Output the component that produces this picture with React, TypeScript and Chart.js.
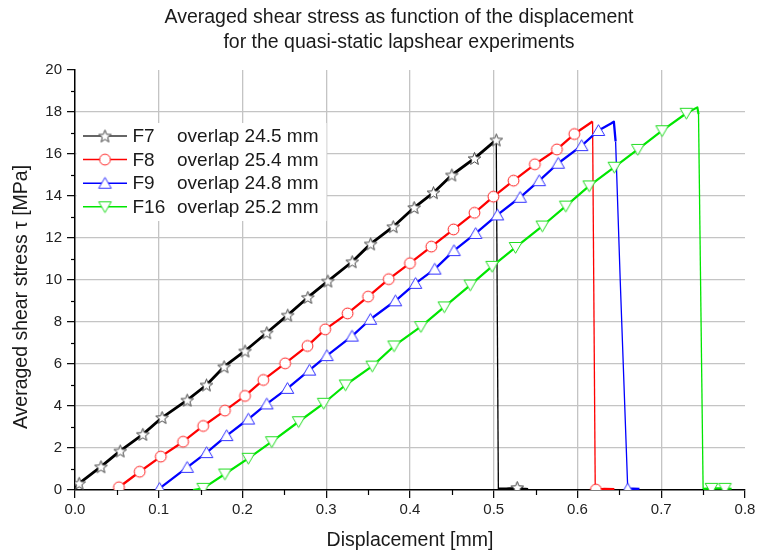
import React, { useEffect, useRef } from 'react';
import { Chart, registerables } from 'chart.js';

Chart.register(...registerables);

const FONT = '"Liberation Sans", Arial, Helvetica, sans-serif';

// ---- text ----
const titleLines = [
  'Averaged shear stress as function of the displacement',
  'for the quasi-static lapshear experiments',
];
const xTitle = 'Displacement [mm]';
const yTitle = 'Averaged shear stress \u03c4 [MPa]';
const seriesNames = ['F7', 'F8', 'F9', 'F16'];
const overlapLabels = ['overlap 24.5 mm', 'overlap 25.4 mm', 'overlap 24.8 mm', 'overlap 25.2 mm'];

// ---- axes ----
const xMin = 0;
const xMax = 0.8;
const xStep = 0.1;
const xMinorStep = 0.05;
const yMin = 0;
const yMax = 20;
const yStep = 2;
const yMinorStep = 1;

// ---- F7 (overlap 24.5 mm) ----
const f7MarkX = [0.005, 0.031, 0.054, 0.081, 0.104, 0.134, 0.157, 0.178, 0.203, 0.229, 0.254, 0.278, 0.302, 0.331, 0.353, 0.38, 0.405, 0.428, 0.45, 0.477, 0.503, 0.528];
const f7MarkY = [0.32, 1.11, 1.86, 2.65, 3.45, 4.28, 5.0, 5.87, 6.62, 7.49, 8.33, 9.17, 9.95, 10.87, 11.72, 12.54, 13.45, 14.16, 15.0, 15.79, 16.67, 0.12];
const f7ExtraX = [0.0, 0.5055, 0.515, 0.522, 0.535, 0.541];
const f7ExtraY = [0.08, 0.05, 0.05, 0.08, 0.05, 0.03];

// ---- F8 (overlap 25.4 mm) ----
const f8MarkX = [0.0525, 0.0772, 0.1024, 0.1291, 0.1531, 0.179, 0.203, 0.2249, 0.2509, 0.2776, 0.2988, 0.3255, 0.35, 0.3746, 0.4, 0.4255, 0.452, 0.477, 0.4996, 0.5236, 0.5491, 0.5754, 0.5962, 0.622];
const f8MarkY = [0.13, 0.87, 1.59, 2.3, 3.05, 3.78, 4.48, 5.24, 6.03, 6.86, 7.65, 8.41, 9.21, 10.04, 10.8, 11.59, 12.41, 13.2, 13.97, 14.73, 15.51, 16.22, 16.95, 0.02];
const f8ExtraX = [0.047, 0.618, 0.6212, 0.632, 0.644];
const f8ExtraY = [0.0, 17.55, 0.02, 0.05, 0.04];

// ---- F9 (overlap 24.8 mm) ----
const f9MarkX = [0.101, 0.1339, 0.1571, 0.1811, 0.207, 0.229, 0.2537, 0.28, 0.3008, 0.3308, 0.3527, 0.3826, 0.4066, 0.4295, 0.4525, 0.4784, 0.5044, 0.5315, 0.5543, 0.577, 0.605, 0.625, 0.66];
const f9MarkY = [0.08, 1.08, 1.78, 2.59, 3.38, 4.1, 4.84, 5.71, 6.4, 7.33, 8.13, 9.01, 9.84, 10.52, 11.4, 12.22, 13.1, 13.94, 14.73, 15.56, 16.4, 17.12, 0.05];
const f9ExtraX = [0.098, 0.64, 0.6434, 0.6455, 0.651, 0.666, 0.674];
const f9ExtraY = [0.0, 17.45, 17.54, 16.6, 10.0, 0.06, 0.05];

// ---- F16 (overlap 25.2 mm) ----
const f16MarkX = [0.153, 0.179, 0.207, 0.235, 0.267, 0.297, 0.323, 0.355, 0.381, 0.413, 0.441, 0.472, 0.498, 0.526, 0.558, 0.586, 0.614, 0.644, 0.672, 0.701, 0.73, 0.76, 0.776];
const f16MarkY = [0.08, 0.76, 1.51, 2.3, 3.25, 4.13, 5.0, 5.9, 6.86, 7.78, 8.72, 9.76, 10.65, 11.55, 12.57, 13.52, 14.48, 15.37, 16.22, 17.11, 17.94, 0.08, 0.08];
const f16ExtraX = [0.141, 0.7431, 0.7445, 0.75, 0.784];
const f16ExtraY = [0.0, 18.22, 17.9, 0.05, 0.06];

const seriesColors = ['#000000', '#ff0000', '#0000ff', '#00e600'];
const markerStroke = ['#444444', '#ff1a1a', '#3333ff', '#22dd22'];
const markerKinds = ['star', 'circle', 'up', 'down'];
const lineWidths = [2.8, 2.3, 2.3, 2.2];

type Pt = { x: number; y: number };

function toPts(xs: number[], ys: number[]): Pt[] {
  return xs.map((x, i) => ({ x, y: ys[i] }));
}

function buildPath(mx: number[], my: number[], ex: number[], ey: number[]): Pt[] {
  const pts = toPts(mx, my).concat(toPts(ex, ey));
  pts.sort((a, b) => a.x - b.x);
  return pts;
}

function makeMarker(kind: string, color: string): HTMLCanvasElement {
  const s = 17;
  const c = document.createElement('canvas');
  c.width = s;
  c.height = s;
  const g = c.getContext('2d')!;
  const cx = s / 2;
  const cy = s / 2;
  g.lineWidth = 1;
  g.strokeStyle = color;
  g.fillStyle = '#ffffff';
  g.beginPath();
  if (kind === 'star') {
    for (let i = 0; i < 10; i++) {
      const r = i % 2 === 0 ? 6.6 : 2.8;
      const a = -Math.PI / 2 + (i * Math.PI) / 5;
      const px = cx + r * Math.cos(a);
      const py = cy + 0.6 + r * Math.sin(a);
      if (i === 0) g.moveTo(px, py);
      else g.lineTo(px, py);
    }
    g.closePath();
  } else if (kind === 'circle') {
    g.arc(cx, cy, 5.4, 0, Math.PI * 2);
  } else if (kind === 'up') {
    g.moveTo(cx, cy - 5.8);
    g.lineTo(cx + 6.3, cy + 5);
    g.lineTo(cx - 6.3, cy + 5);
    g.closePath();
  } else {
    g.moveTo(cx, cy + 5.8);
    g.lineTo(cx + 6.3, cy - 5);
    g.lineTo(cx - 6.3, cy - 5);
    g.closePath();
  }
  g.fill();
  g.stroke();
  return c;
}

export default function App() {
  const ref = useRef<HTMLCanvasElement | null>(null);

  useEffect(() => {
    document.body.style.margin = '0';
    const canvas = ref.current;
    if (!canvas) return;

    const markImgs = markerKinds.map((k, i) => makeMarker(k, markerStroke[i]));
    const paths = [
      buildPath(f7MarkX, f7MarkY, f7ExtraX, f7ExtraY),
      buildPath(f8MarkX, f8MarkY, f8ExtraX, f8ExtraY),
      buildPath(f9MarkX, f9MarkY, f9ExtraX, f9ExtraY),
      buildPath(f16MarkX, f16MarkY, f16ExtraX, f16ExtraY),
    ];
    const marks = [
      toPts(f7MarkX, f7MarkY),
      toPts(f8MarkX, f8MarkY),
      toPts(f9MarkX, f9MarkY),
      toPts(f16MarkX, f16MarkY),
    ];

    const datasets: any[] = [];
    seriesNames.forEach((name, i) => {
      datasets.push({
        label: name,
        data: paths[i],
        borderColor: seriesColors[i],
        backgroundColor: seriesColors[i],
        borderWidth: lineWidths[i],
        pointRadius: 0,
        tension: 0,
        fill: false,
        order: 20 - i,
        borderJoinStyle: 'round',
        segment: {
          borderWidth: (c: any) => (c.p0.parsed.y - c.p1.parsed.y > 1.5 ? 1.3 : undefined),
        },
      });
    });
    seriesNames.forEach((name, i) => {
      datasets.push({
        label: name + ' markers',
        data: marks[i],
        showLine: false,
        pointStyle: markImgs[i],
        pointRadius: 6,
        order: 10 - i,
      });
    });

    const decor = {
      id: 'decor',
      afterDraw(chart: any) {
        const { ctx, chartArea } = chart;
        const xs = chart.scales.x;
        const ys = chart.scales.y;
        ctx.save();
        // minor ticks
        ctx.strokeStyle = '#000';
        ctx.lineWidth = 1.2;
        const nx = Math.round((xMax - xMin) / xMinorStep);
        for (let k = 1; k < nx; k += 2) {
          const px = Math.round(xs.getPixelForValue(xMin + k * xMinorStep)) + 0.5;
          ctx.beginPath();
          ctx.moveTo(px, chartArea.bottom);
          ctx.lineTo(px, chartArea.bottom + 5);
          ctx.stroke();
        }
        const ny = Math.round((yMax - yMin) / yMinorStep);
        for (let k = 1; k < ny; k += 2) {
          const py = Math.round(ys.getPixelForValue(yMin + k * yMinorStep)) + 0.5;
          ctx.beginPath();
          ctx.moveTo(chartArea.left - 4, py);
          ctx.lineTo(chartArea.left, py);
          ctx.stroke();
        }
        // title
        ctx.fillStyle = '#1a1a1a';
        ctx.textAlign = 'center';
        ctx.textBaseline = 'middle';
        ctx.font = `19.5px ${FONT}`;
        ctx.fillText(titleLines[0], 399, 18);
        ctx.fillText(titleLines[1], 399, 43);
        // x title
        ctx.fillText(xTitle, (chartArea.left + chartArea.right) / 2, 541);
        // y title
        ctx.save();
        ctx.translate(22, 297);
        ctx.rotate(-Math.PI / 2);
        ctx.fillText(yTitle, 0, 0);
        ctx.restore();
        // legend
        ctx.fillStyle = '#ffffff';
        ctx.fillRect(chartArea.left + 1.5, 123, 250, 98);
        const rows = [136, 159.6, 183.2, 206.8];
        ctx.font = `19px ${FONT}`;
        ctx.textAlign = 'left';
        seriesNames.forEach((name, i) => {
          const y = rows[i];
          ctx.strokeStyle = seriesColors[i] === '#000000' ? '#333' : seriesColors[i];
          ctx.lineWidth = 1.5;
          ctx.beginPath();
          ctx.moveTo(83, y);
          ctx.lineTo(127, y);
          ctx.stroke();
          const img = markImgs[i];
          ctx.drawImage(img, 105 - img.width / 2, y - img.height / 2);
          ctx.fillStyle = '#1a1a1a';
          ctx.fillText(name, 132.5, y + 1);
          ctx.fillText(overlapLabels[i], 177, y + 1);
        });
        ctx.restore();
      },
    };

    const hideEdge = (lo: number, hi: number) => (c: any) => {
      const v = c.tick ? c.tick.value : NaN;
      if (Math.abs(v - lo) < 1e-9 || Math.abs(v - hi) < 1e-9) return 'rgba(0,0,0,0)';
      return '#c4c4c4';
    };

    const chart = new Chart(canvas, {
      type: 'line',
      data: { datasets },
      options: {
        animation: false,
        responsive: false,
        events: [],
        layout: { padding: { top: 70, right: 14, bottom: 0, left: 0 } },
        plugins: {
          legend: { display: false },
          title: { display: false },
          tooltip: { enabled: false },
        },
        scales: {
          x: {
            type: 'linear',
            min: xMin,
            max: xMax,
            afterFit: (s: any) => {
              s.height = 64;
            },
            ticks: {
              stepSize: xStep,
              autoSkip: false,
              maxRotation: 0,
              padding: 3,
              color: '#222',
              font: { family: FONT, size: 15 },
              callback: (v: any) => Number(v).toFixed(1),
            },
            grid: {
              color: hideEdge(xMin, xMax),
              lineWidth: 1.3,
              tickColor: '#000',
              tickLength: 8,
              tickWidth: 1.2,
            },
            border: { display: true, color: '#000', width: 1.5 },
          },
          y: {
            type: 'linear',
            min: yMin,
            max: yMax,
            afterFit: (s: any) => {
              s.width = 75;
            },
            ticks: {
              stepSize: yStep,
              autoSkip: false,
              padding: 5,
              color: '#222',
              font: { family: FONT, size: 15 },
            },
            grid: {
              color: hideEdge(yMin, yMax),
              lineWidth: 1.3,
              tickColor: '#000',
              tickLength: 8,
              tickWidth: 1.2,
            },
            border: { display: true, color: '#000', width: 1.5 },
          },
        },
      } as any,
      plugins: [decor],
    });

    return () => {
      chart.destroy();
    };
  }, []);

  return (
    <div style={{ position: 'absolute', left: 0, top: 0, width: 759, height: 554, background: '#fff' }}>
      <canvas ref={ref} width={759} height={554} style={{ display: 'block', width: 759, height: 554 }} />
    </div>
  );
}
